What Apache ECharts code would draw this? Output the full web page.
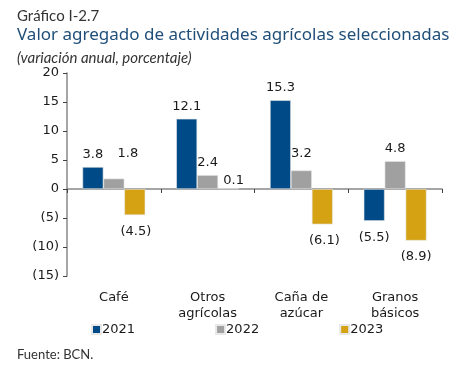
<!DOCTYPE html>
<html>
<head>
<meta charset="utf-8">
<script src="https://cdn.jsdelivr.net/npm/echarts@6/dist/echarts.min.js"></script>
<style>
  html, body { margin: 0; padding: 0; background: #fff; }
  #chart { width: 467px; height: 375px; }
</style>
</head>
<body>
<div id="chart"></div>
<script>
var categories = ['Café', 'Otros\nagrícolas', 'Caña de\nazúcar', 'Granos\nbásicos'];
var years = ['2021', '2022', '2023'];
var v2021 = [3.8, 12.1, 15.3, -5.5];
var v2022 = [1.8, 2.4, 3.2, 4.8];
var v2023 = [-4.5, 0.1, -6.1, -8.9];
var colors = ['#004b87', '#a0a0a0', '#d5a214'];

// etiquetas movidas a mano como en el original
var labelShift = {
  '0-1': [14, -12], '2-1': [0, -4], '1-2': [5, 5], '0-2': [1, 0], '2-2': [2, 0]
};

function fmt(v) {
  return v < 0 ? '(' + Math.abs(v).toFixed(1) + ')' : v.toFixed(1);
}

function buildSeries(name, vals, idx) {
  return {
    name: name,
    type: 'bar',
    barGap: '0%',
    barCategoryGap: '33%',
    itemStyle: { color: colors[idx], borderColor: '#e8e8e8', borderWidth: 0.6 },
    data: vals.map(function (v, i) {
      var sh = labelShift[i + '-' + idx] || [0, 0];
      return {
        value: v,
        label: {
          show: true,
          position: v < 0 ? 'bottom' : 'top',
          distance: v < 0 ? 10 : 6,
          offset: sh,
          formatter: function (p) { return fmt(p.value); },
          fontFamily: 'DejaVu Sans',
          fontSize: 13,
          color: '#1a1a1a'
        }
      };
    })
  };
}

var chart = echarts.init(document.getElementById('chart'));
chart.setOption({
  animation: false,
  color: colors,
  title: [
    { text: 'Gráfico I-2.7', left: 12, top: 4,
      textStyle: { fontFamily: 'Lato', fontWeight: 'normal', fontSize: 15, color: '#333' } },
    { text: 'Valor agregado de actividades agrícolas seleccionadas', left: 12, top: 22,
      textStyle: { fontFamily: 'Noto Sans', fontWeight: 'normal', fontSize: 17, color: '#1f4e79' } },
    { text: '(variación anual, porcentaje)', left: 12, top: 46,
      textStyle: { fontFamily: 'Lato', fontStyle: 'italic', fontWeight: 'normal', fontSize: 15, color: '#333' } },
    { text: 'Fuente: BCN.', left: 12, top: 343,
      textStyle: { fontFamily: 'Lato', fontWeight: 'normal', fontSize: 13, color: '#333' } }
  ],
  legend: {
    data: years,
    top: 318,
    left: 86,
    itemGap: 80,
    itemWidth: 9,
    itemHeight: 9,
    icon: 'rect',
    textStyle: { fontFamily: 'DejaVu Sans', fontSize: 13, color: '#1a1a1a', padding: [0, 0, 0, -4] }
  },
  grid: { left: 67, right: 25, top: 73, bottom: 99 },
  xAxis: {
    type: 'category',
    data: categories,
    axisLine: { onZero: true, lineStyle: { color: '#888', width: 1.5 } },
    axisTick: { show: true, length: 4, inside: false, lineStyle: { color: '#444' } },
    axisLabel: {
      fontFamily: 'DejaVu Sans', fontSize: 13, color: '#1a1a1a',
      lineHeight: 16, margin: 14
    },
    position: 'bottom'
  },
  yAxis: {
    type: 'value',
    min: -15, max: 20, interval: 5,
    splitLine: { show: false },
    axisLine: { show: true, lineStyle: { color: '#888', width: 1.5 } },
    axisTick: { show: true, length: 4, lineStyle: { color: '#444' } },
    axisLabel: {
      fontFamily: 'DejaVu Sans', fontSize: 13, color: '#1a1a1a', margin: 8,
      formatter: function (v) { return v < 0 ? '(' + Math.abs(v) + ')' : String(v); }
    }
  },
  series: [
    buildSeries(years[0], v2021, 0),
    buildSeries(years[1], v2022, 1),
    buildSeries(years[2], v2023, 2)
  ]
});
</script>
</body>
</html>
